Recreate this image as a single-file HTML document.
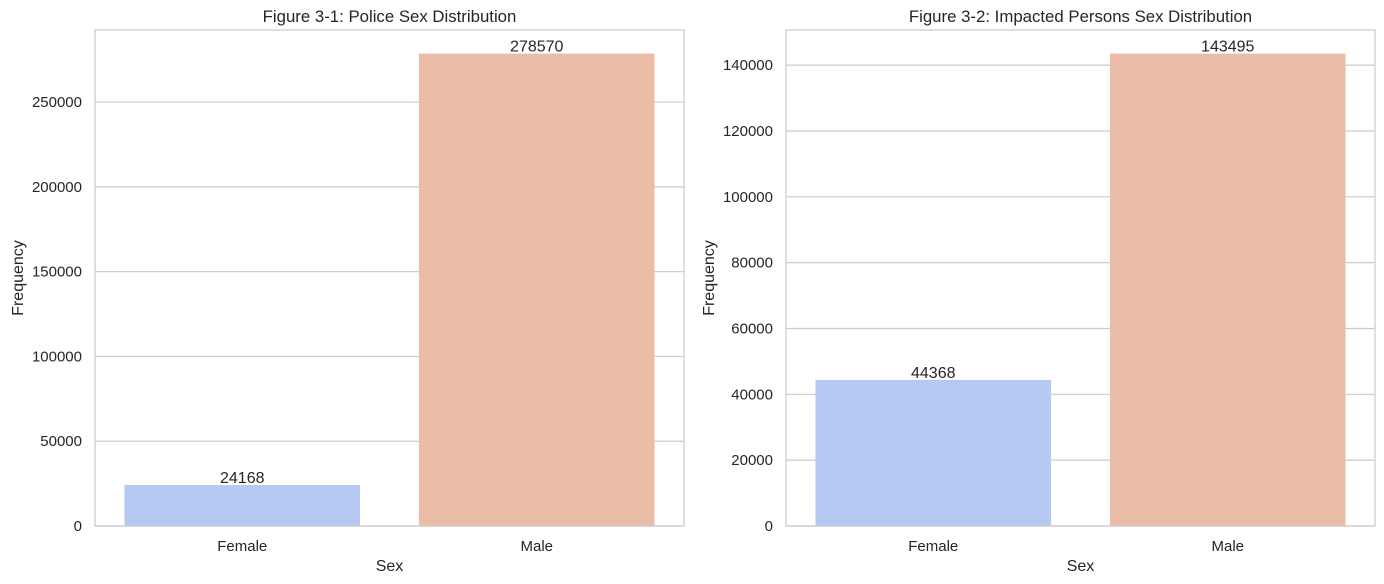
<!DOCTYPE html>
<html><head><meta charset="utf-8">
<style>
html,body{margin:0;padding:0;background:#fff;}
svg{display:block;font-family:"Liberation Sans","DejaVu Sans",sans-serif;}
</style></head>
<body>
<svg id="chart" width="1384" height="584" viewBox="0 0 1384 584" xmlns="http://www.w3.org/2000/svg"></svg>
<script>
const categories = ["Female","Male"];
const policeValues = [24168, 278570];
const impactedValues = [44368, 143495];
const policeTicks = [0,50000,100000,150000,200000,250000];
const impactedTicks = [0,20000,40000,60000,80000,100000,120000,140000];
const barColors = ["#b5c9f3","#ebbca6"];

const NS="http://www.w3.org/2000/svg";
const svg=document.getElementById('chart');
function mk(tag,attrs,parent){const e=document.createElementNS(NS,tag);for(const k in attrs)e.setAttribute(k,attrs[k]);(parent||svg).appendChild(e);return e;}

function drawPanel(x0,x1,y0,y1,values,ticks,title,name,ylabelX){
  const g=mk('g',{});
  
  
  const ymax=Math.max(...values)*1.05;
  const ys=v=>y1-(v/ymax)*(y1-y0);
  const band=(x1-x0)/categories.length;
  const xs=i=>x0+band*(i+0.5);
  ticks.forEach(t=>{
    const y=ys(t);
    const ln=mk('line',{x1:x0,x2:x1,y1:y,y2:y,stroke:'#cccccc','stroke-width':1.2},g);
    
    
    const tx=mk('text',{x:x0-13,y:y+5,'text-anchor':'end','font-size':15,fill:'#262626'},g);
    tx.textContent=t;
    
    
  });
  values.forEach((v,i)=>{
    const bw=band*0.8;
    const r=mk('rect',{x:xs(i)-bw/2,y:ys(v),width:bw,height:y1-ys(v),fill:barColors[i]},g);
    
    
    const lb=mk('text',{x:xs(i),y:ys(v)-2,'text-anchor':'middle','font-size':16,fill:'#262626'},g);
    lb.textContent=v;
    
    
    const cl=mk('text',{x:xs(i),y:y1+25,'text-anchor':'middle','font-size':15,fill:'#262626'},g);
    cl.textContent=categories[i];
    
    
  });
  const fr=mk('rect',{x:x0,y:y0,width:x1-x0,height:y1-y0,fill:'none',stroke:'#cccccc','stroke-width':1.25},g);
  
  
  const t=mk('text',{x:(x0+x1)/2,y:y0-8,'text-anchor':'middle','font-size':16.8,fill:'#262626'},g);
  t.textContent=title;
  
  
  const xl=mk('text',{x:(x0+x1)/2,y:y1+45,'text-anchor':'middle','font-size':16,fill:'#262626'},g);
  xl.textContent='Sex';
  
  
  const yc=(y0+y1)/2;
  const yl=mk('text',{x:ylabelX,y:yc,'text-anchor':'middle','font-size':16,fill:'#262626',transform:'rotate(-90 '+ylabelX+' '+yc+')'},g);
  yl.textContent='Frequency';
  
  
}
drawPanel(95,684,30,526,policeValues,policeTicks,'Figure 3-1: Police Sex Distribution','police-panel',23);
drawPanel(786,1375,30,526,impactedValues,impactedTicks,'Figure 3-2: Impacted Persons Sex Distribution','impacted-panel',714);
</script>
</body></html>
